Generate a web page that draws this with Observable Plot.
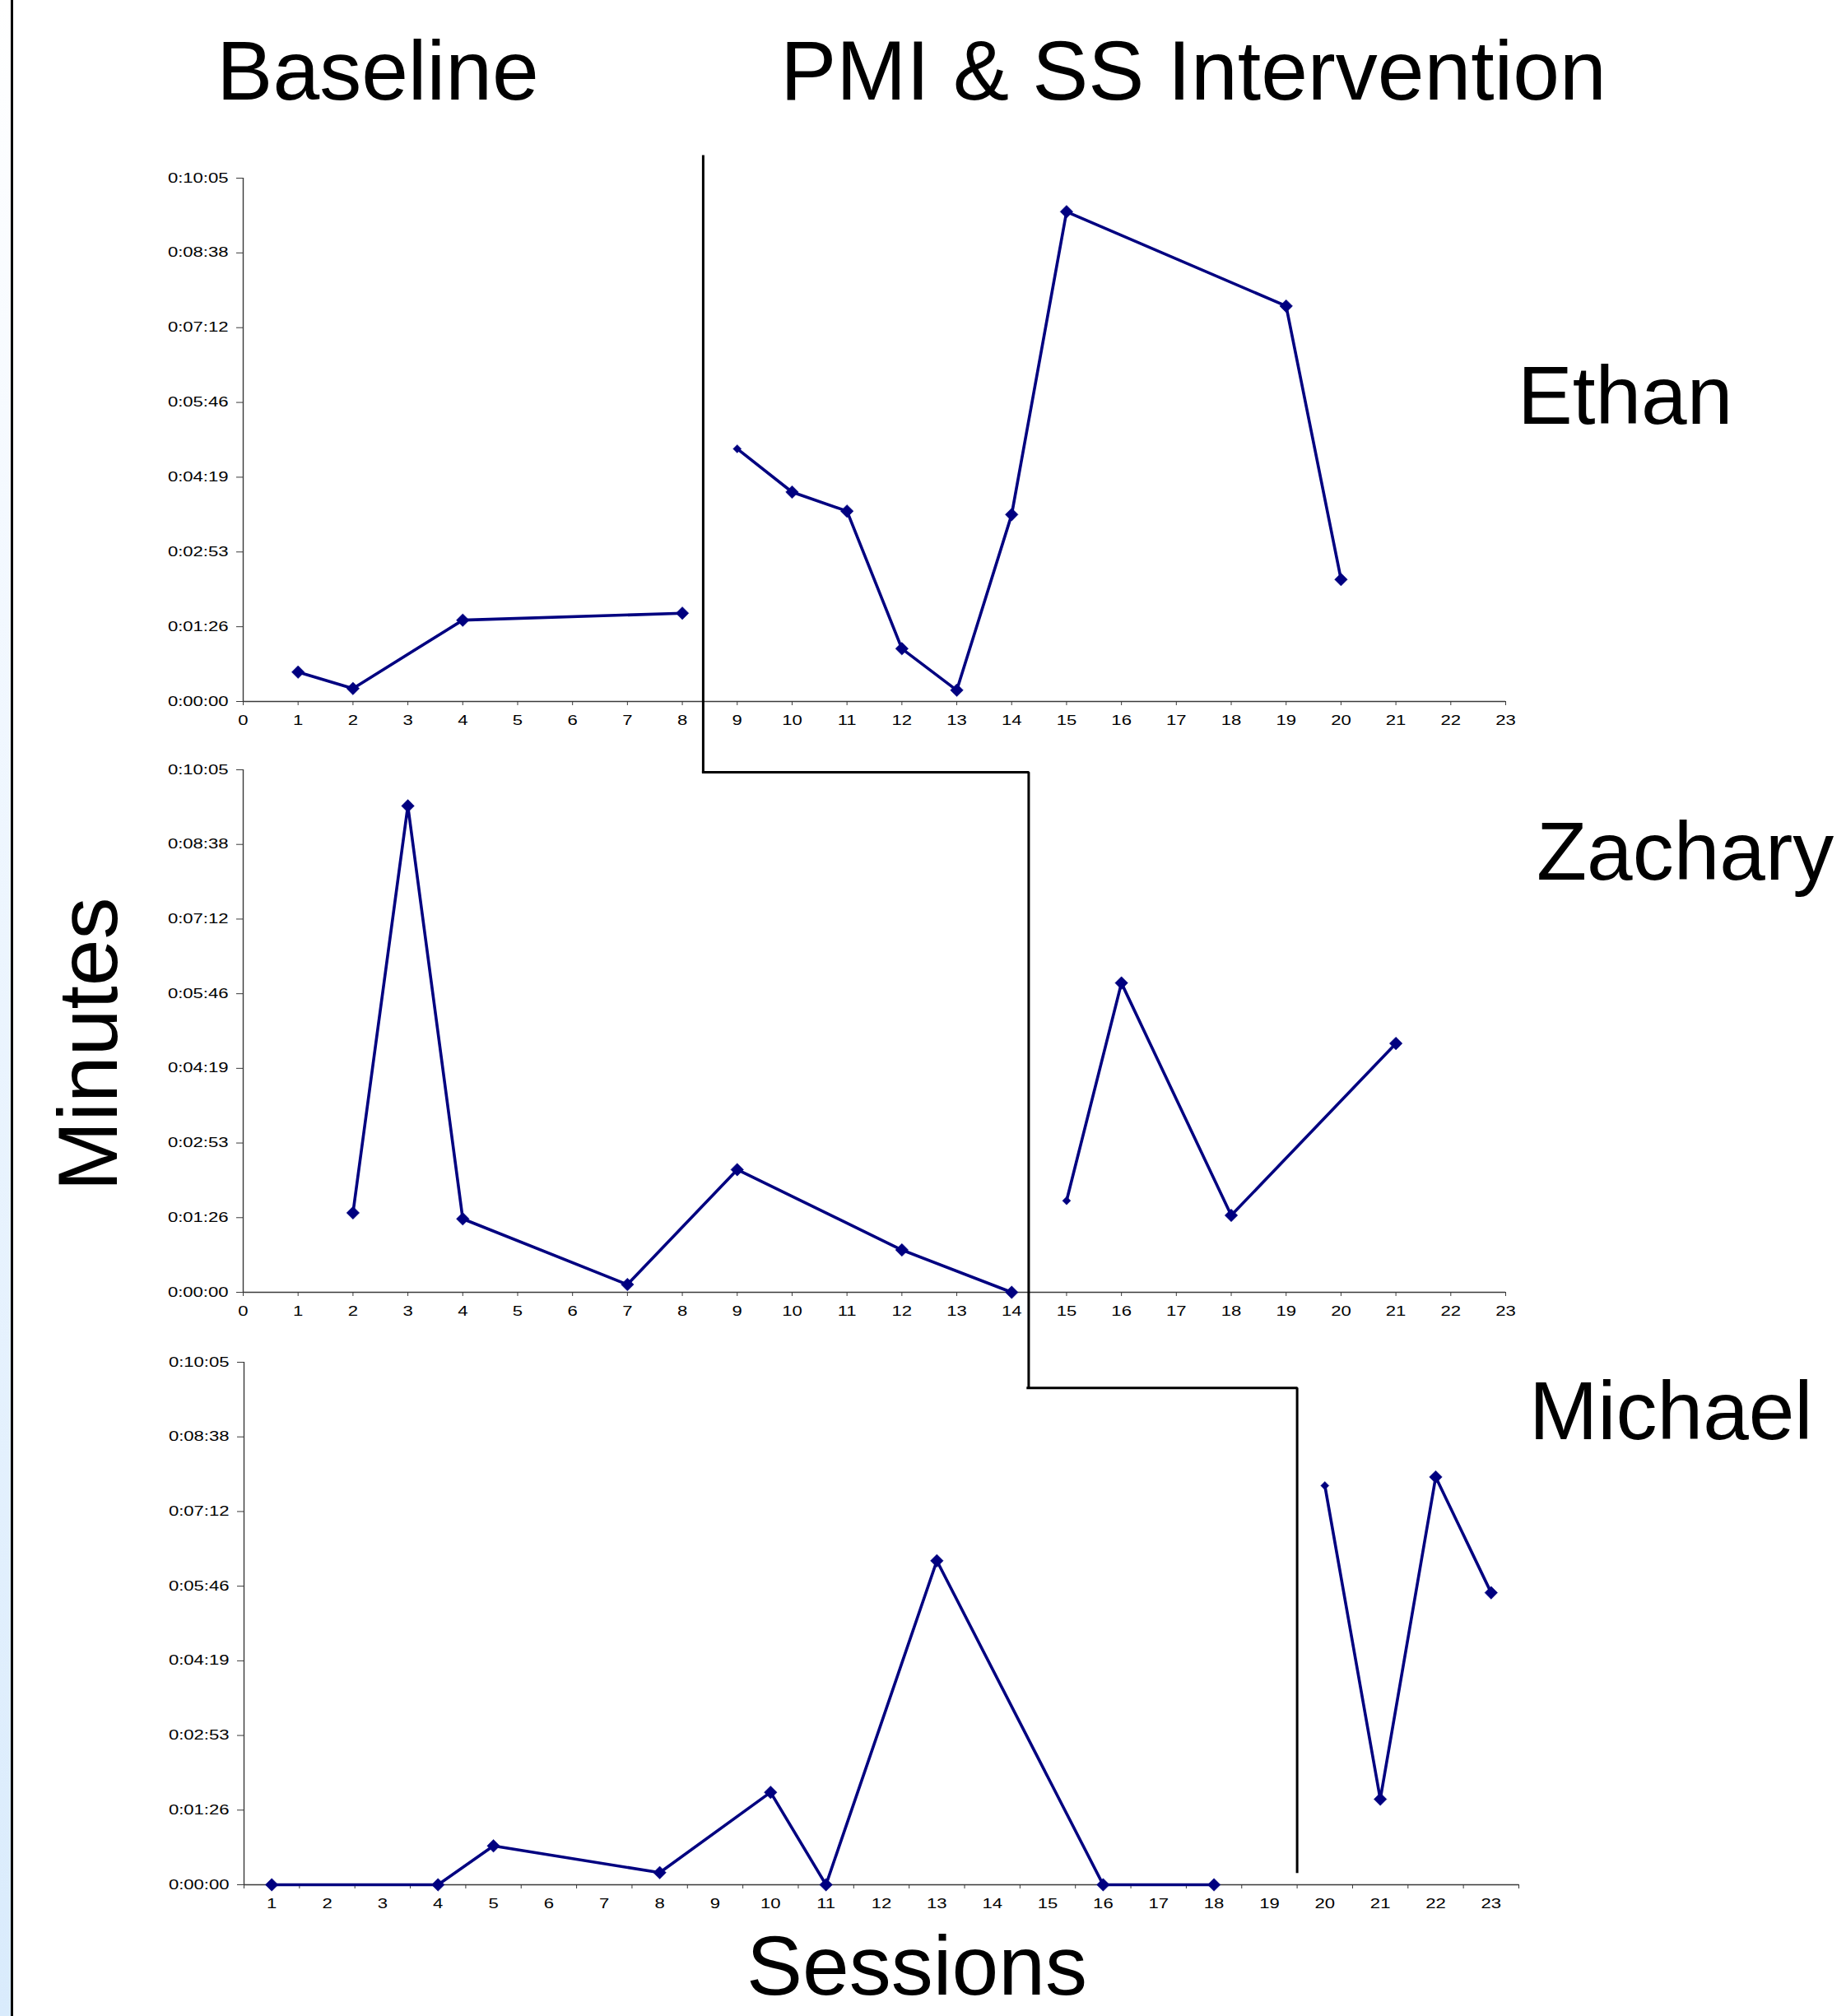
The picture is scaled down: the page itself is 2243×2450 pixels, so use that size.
<!DOCTYPE html>
<html>
<head>
<meta charset="utf-8">
<script src="https://cdn.jsdelivr.net/npm/d3@7"></script>
<script src="https://cdn.jsdelivr.net/npm/@observablehq/plot@0.6"></script>
<style>
  html, body { margin: 0; padding: 0; background: #fff; }
  #page { position: relative; width: 2243px; height: 2450px; overflow: hidden; background: #fff;
          font-family: "Liberation Sans", Arial, sans-serif; }
  #strip { position: absolute; left: 0; top: 0; width: 14px; height: 2450px;
           background: linear-gradient(to bottom, #ffffff 0%, #f4f9ff 25%, #d9ebfc 100%); }
  #edge { position: absolute; left: 13px; top: 0; width: 3px; height: 2450px; background: #000; }
  .big { position: absolute; font-size: 102px; line-height: 1; color: #000; white-space: nowrap; }
  .panel { position: absolute; left: 0; }
</style>
</head>
<body>
<div id="page">
  <div id="strip"></div>
  <div id="edge"></div>
  <div class="big" style="left:459px; top:35px; transform:translateX(-50%);">Baseline</div>
  <div class="big" style="left:1450px; top:35px; transform:translateX(-50%);">PMI &amp; SS Intervention</div>
  <div class="big" style="left:1844px; top:430px; font-size:100px;">Ethan</div>
  <div class="big" style="left:1867px; top:984px; font-size:100px;">Zachary</div>
  <div class="big" style="left:1858px; top:1664px; font-size:100px;">Michael</div>
  <div class="big" style="left:1114px; top:2346px; line-height:0.85; transform:translateX(-50%);">Sessions</div>
  <div class="big" style="left:107px; top:1269px; transform:translate(-50%,-50%) rotate(-90deg);">Minutes</div>
  <div class="panel" id="ethan" style="top:0px;"></div>
  <div class="panel" id="zachary" style="top:900px;"></div>
  <div class="panel" id="michael" style="top:1620px;"></div>
</div>
<script>
// ---------------- data (seconds) ----------------
const ethanBaselineSessions = [1, 2, 4, 8];
const ethanBaselineSeconds = [34, 15, 94, 102];
const ethanInterventionSessions = [9, 10, 11, 12, 13, 14, 15, 19, 20];
const ethanInterventionSeconds = [292, 242, 220, 61, 13, 216, 566, 457, 141];

const zacharyBaselineSessions = [2, 3, 4, 7, 9, 12, 14];
const zacharyBaselineSeconds = [92, 563, 85, 9, 142, 49, 0];
const zacharyInterventionSessions = [15, 16, 18, 21];
const zacharyInterventionSeconds = [106, 358, 89, 288];

const michaelBaselineSessions = [1, 4, 5, 8, 10, 11, 13, 16, 18];
const michaelBaselineSeconds = [0, 0, 45, 14, 107, 0, 375, 0, 0];
const michaelInterventionSessions = [20, 21, 22, 23];
const michaelInterventionSeconds = [462, 99, 472, 338];

// phase-change line pieces, in each panel's own units (session, seconds)
const ethanPhaseX = [8.38, 8.38];
const ethanPhaseY = [630, -81];
const zacharyPhaseX = [8.38, 14.31, 14.31];
const zacharyPhaseY = [602, 602, -109];
const michaelPhaseX = [14.64, 19.5, 19.5];
const michaelPhaseY = [575, 575, 15];

// ticks
const sessionTicks = [0,1,2,3,4,5,6,7,8,9,10,11,12,13,14,15,16,17,18,19,20,21,22,23];
const michaelSessionLabels = [1,2,3,4,5,6,7,8,9,10,11,12,13,14,15,16,17,18,19,20,21,22,23];
const michaelBandEdges = [0.5,1.5,2.5,3.5,4.5,5.5,6.5,7.5,8.5,9.5,10.5,11.5,12.5,13.5,14.5,15.5,16.5,17.5,18.5,19.5,20.5,21.5,22.5,23.5];
const yTickValues = [0, 86.4, 172.8, 259.2, 345.6, 432, 518.4, 604.8];
const yTickLabels = ["0:00:00","0:01:26","0:02:53","0:04:19","0:05:46","0:07:12","0:08:38","0:10:05"];

// ---------------- helpers ----------------
const navy = "#000080";
const axisColor = "#3a3a3a";
function rows(sessions, seconds, phase) {
  return sessions.map((s, i) => ({session: s, seconds: seconds[i], phase, first: i === 0 && phase === "intervention"}));
}
function pts(xs, ys) { return xs.map((x, i) => ({x, y: ys[i]})); }

function panel(el, {data, phase, xDomain, marginLeft, marginRight, marginTop, marginBottom, frameHeight, michael}) {
  const marks = [
    Plot.ruleX([xDomain[0]], {y1: 0, y2: 604.8, stroke: axisColor, strokeWidth: 1.4}),
    Plot.ruleY([0], {x1: xDomain[0], x2: xDomain[1], stroke: axisColor, strokeWidth: 1.4}),
    Plot.axisY(yTickValues, {
      tickFormat: d => yTickLabels[yTickValues.indexOf(d)],
      tickSize: 8, tickPadding: 10, fontSize: 16, stroke: axisColor, label: null
    })
  ];
  if (michael) {
    marks.push(Plot.axisX(michaelBandEdges, {tickFormat: () => "", tickSize: 5, stroke: axisColor, label: null}));
    marks.push(Plot.axisX(michaelSessionLabels, {tickFormat: d => String(d), tickSize: 0, tickPadding: 17, fontSize: 16, label: null}));
  } else {
    marks.push(Plot.axisX(sessionTicks, {tickFormat: d => String(d), tickSize: 5, tickPadding: 12, fontSize: 16, stroke: axisColor, label: null}));
  }
  marks.push(
    Plot.line(data, {x: "session", y: "seconds", z: "phase", stroke: navy, strokeWidth: 3.6, strokeLinejoin: "round"}),
    Plot.dot(data, {filter: d => !d.first, x: "session", y: "seconds", symbol: "diamond2", r: 7, fill: navy, stroke: navy, strokeWidth: 0.5}),
    Plot.dot(data, {filter: d => d.first, x: "session", y: "seconds", symbol: "diamond2", r: 4.5, fill: navy, stroke: navy, strokeWidth: 0.5}),
    Plot.line(phase, {x: "x", y: "y", stroke: "#000", strokeWidth: 3, strokeLinejoin: "miter", strokeLinecap: "square"})
  );
  const chart = Plot.plot({
    width: 2243,
    height: marginTop + frameHeight + marginBottom,
    marginLeft, marginRight, marginTop, marginBottom,
    x: {type: "linear", domain: xDomain, axis: null},
    y: {type: "linear", domain: [0, 604.8], axis: null},
    style: {background: "transparent", overflow: "visible", color: "#000",
            fontFamily: "'Liberation Sans', Arial, sans-serif"},
    marks
  });
  chart.querySelectorAll('g[aria-label="y-axis tick label"] text, g[aria-label="x-axis tick label"] text').forEach(t => {
    const tr = t.getAttribute("transform") || "";
    t.setAttribute("transform", tr + " scale(1.38,1)");
  });
  el.appendChild(chart);
}

panel(document.getElementById("ethan"), {
  data: rows(ethanBaselineSessions, ethanBaselineSeconds, "baseline")
          .concat(rows(ethanInterventionSessions, ethanInterventionSeconds, "intervention")),
  phase: pts(ethanPhaseX, ethanPhaseY),
  xDomain: [0, 23], marginLeft: 295, marginRight: 414, marginTop: 216, marginBottom: 100, frameHeight: 636
});
panel(document.getElementById("zachary"), {
  data: rows(zacharyBaselineSessions, zacharyBaselineSeconds, "baseline")
          .concat(rows(zacharyInterventionSessions, zacharyInterventionSeconds, "intervention")),
  phase: pts(zacharyPhaseX, zacharyPhaseY),
  xDomain: [0, 23], marginLeft: 295, marginRight: 414, marginTop: 35, marginBottom: 130, frameHeight: 635
});
panel(document.getElementById("michael"), {
  data: rows(michaelBaselineSessions, michaelBaselineSeconds, "baseline")
          .concat(rows(michaelInterventionSessions, michaelInterventionSeconds, "intervention")),
  phase: pts(michaelPhaseX, michaelPhaseY),
  xDomain: [0.5, 23.5], marginLeft: 296, marginRight: 398, marginTop: 35, marginBottom: 60, frameHeight: 635,
  michael: true
});
</script>
</body>
</html>
